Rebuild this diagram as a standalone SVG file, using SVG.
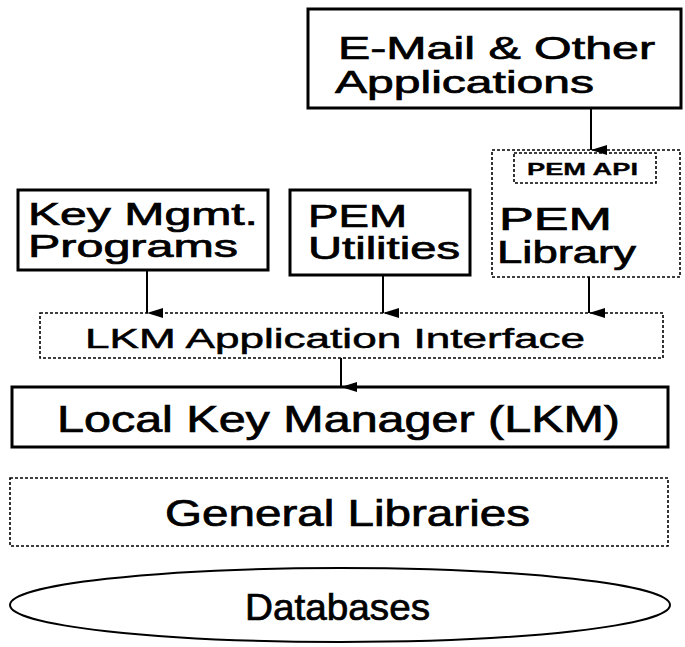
<svg xmlns="http://www.w3.org/2000/svg" width="685" height="647" viewBox="0 0 685 647">
<defs>
<marker id="ah" markerWidth="10" markerHeight="16" refX="5" refY="16" orient="auto-start-reverse" markerUnits="userSpaceOnUse" viewBox="0 0 10 16">
<path d="M0,0 L5,16 L10,0 Z" fill="#000"/>
</marker>
</defs>
<style>
.solid{fill:#fff;stroke:#000;stroke-width:3}
.dash{fill:#fff;stroke:#000;stroke-width:1.6;stroke-dasharray:3 2}
.t{font-family:"Liberation Sans",Arial,Helvetica,sans-serif;fill:#000;stroke:#000;stroke-width:0.7}
.conn line{stroke:#000;stroke-width:2}
</style>
<rect width="685" height="647" fill="#fff"/>
<g id="email">
<rect class="solid" x="308" y="9" width="373" height="99"/>
<text class="t" x="338" y="59" font-size="32" textLength="317" lengthAdjust="spacingAndGlyphs">E-Mail &amp; Other</text>
<text class="t" x="335" y="93" font-size="32" textLength="259" lengthAdjust="spacingAndGlyphs">Applications</text>
</g>
<g id="pemlib">
<rect class="dash" x="492" y="150" width="188" height="127"/>
<text class="t" x="499" y="230" font-size="31" textLength="113" lengthAdjust="spacingAndGlyphs">PEM</text>
<text class="t" x="497" y="263" font-size="31" textLength="139" lengthAdjust="spacingAndGlyphs">Library</text>
</g>
<g id="pemapi">
<rect class="dash" x="514" y="153" width="142" height="30"/>
<text class="t" x="527" y="175" font-size="17" font-weight="bold" textLength="111" lengthAdjust="spacingAndGlyphs" style="stroke-width:0.3">PEM API</text>
</g>
<g id="keymgmt">
<rect class="solid" x="18" y="190" width="250" height="80"/>
<text class="t" x="28" y="225" font-size="31" textLength="230" lengthAdjust="spacingAndGlyphs">Key Mgmt.</text>
<text class="t" x="28" y="257" font-size="31" textLength="210" lengthAdjust="spacingAndGlyphs">Programs</text>
</g>
<g id="pemutil">
<rect class="solid" x="290" y="190" width="180" height="85"/>
<text class="t" x="308" y="227" font-size="31" textLength="99" lengthAdjust="spacingAndGlyphs">PEM</text>
<text class="t" x="308" y="259" font-size="31" textLength="152" lengthAdjust="spacingAndGlyphs">Utilities</text>
</g>
<g id="lkmapi">
<rect class="dash" x="40" y="313" width="623" height="45"/>
<text class="t" x="85" y="348" font-size="27" textLength="500" lengthAdjust="spacingAndGlyphs" style="stroke-width:0.5">LKM Application Interface</text>
</g>
<g id="lkm">
<rect class="solid" x="12" y="387" width="656" height="60"/>
<text class="t" x="57" y="432" font-size="36" textLength="563" lengthAdjust="spacingAndGlyphs">Local Key Manager (LKM)</text>
</g>
<g id="genlib">
<rect class="dash" x="10" y="478" width="658" height="68"/>
<text class="t" x="165" y="526" font-size="36" textLength="365" lengthAdjust="spacingAndGlyphs">General Libraries</text>
</g>
<g id="db">
<ellipse cx="340" cy="605" rx="330" ry="37" fill="#fff" stroke="#000" stroke-width="2"/>
<text class="t" x="245" y="620" font-size="36" textLength="185" lengthAdjust="spacingAndGlyphs">Databases</text>
</g>
<g id="connectors" class="conn">
<line x1="591" y1="108" x2="591" y2="150" marker-end="url(#ah)"/>
<line x1="147" y1="270" x2="147" y2="313" marker-end="url(#ah)"/>
<line x1="383" y1="275" x2="383" y2="313" marker-end="url(#ah)"/>
<line x1="589" y1="277" x2="589" y2="313" marker-end="url(#ah)"/>
<line x1="341" y1="358" x2="341" y2="387" marker-end="url(#ah)"/>
</g>
</svg>
